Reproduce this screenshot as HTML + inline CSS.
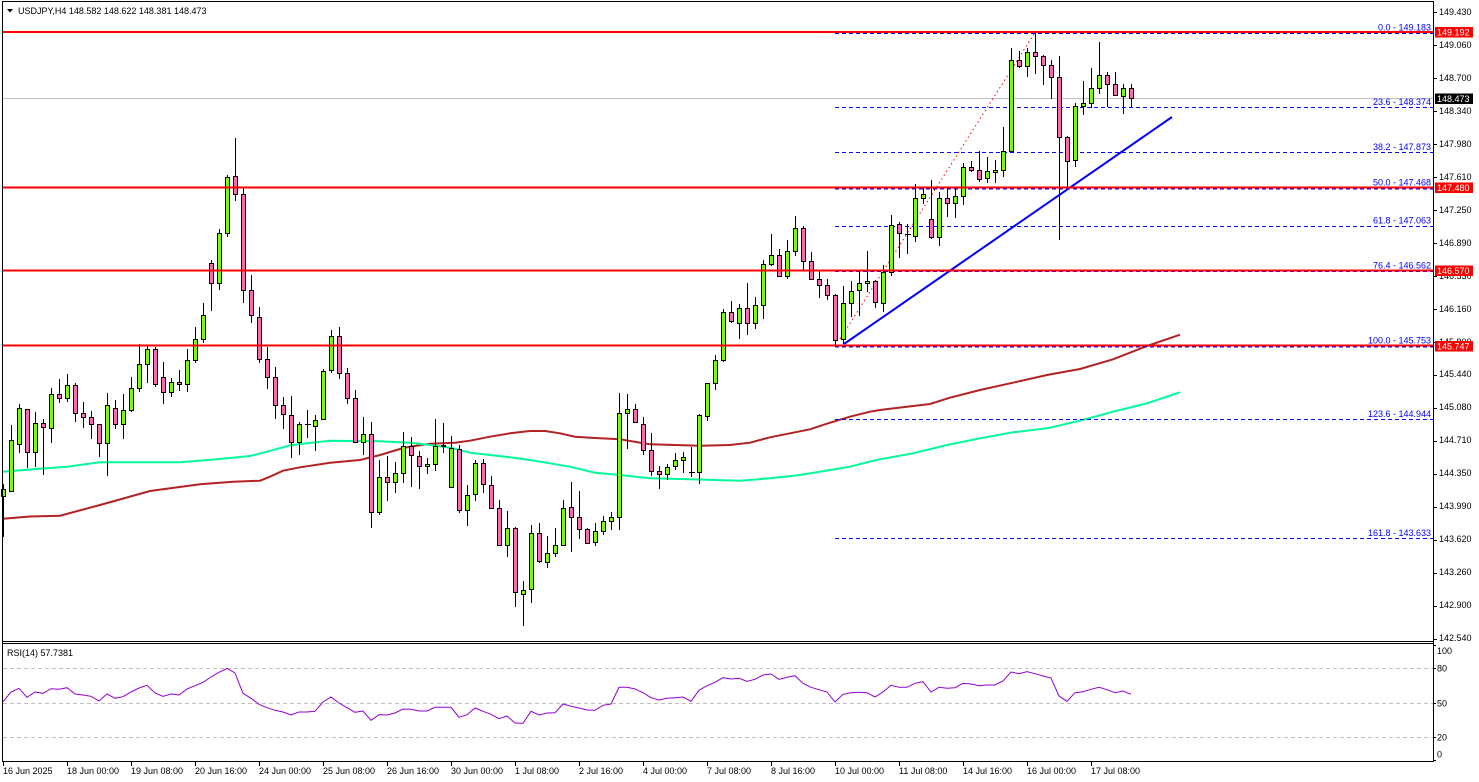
<!DOCTYPE html>
<html><head><meta charset="utf-8"><style>
html,body{margin:0;padding:0;background:#fff;}
svg{display:block;}
text{font-family:"Liberation Sans",sans-serif;font-size:9px;}
</style></head><body>
<svg width="1479" height="782" viewBox="0 0 1479 782" xmlns="http://www.w3.org/2000/svg">
<rect width="1479" height="782" fill="#fff"/>
<!-- MAs -->
<polyline fill="none" stroke="#B22222" stroke-width="2" points="3,518.7 30,516.5 60,515.7 100,505 150,491 200,484.3 233,481.7 260,480.7 270,476.7 283,470.7 300,467.3 330,462.7 360,460 380,455 400,449 410,446.7 430,443.7 455,442.7 470,440.7 490,436.7 510,433.3 530,431 545,431 560,433.3 575,436.7 595,438 620,439.3 650,444.3 700,445.7 730,445 750,442.7 770,437.3 790,433.3 810,429.3 830,422.7 850,416.7 870,411.7 880,410 930,404 950,397.7 980,390 1013,382.7 1047,375 1080,369 1113,359.3 1147,346 1180,334.7"/>
<polyline fill="none" stroke="#00FA9A" stroke-width="2" points="3,471.7 33,469.3 67,466.7 100,462.3 180,462.3 217,459.3 250,456 267,451.7 290,445.3 300,444 330,440.7 380,441.3 410,442.7 430,445 450,447.7 470,452.7 490,455 510,457.3 530,460 550,463.3 570,466.7 595,472.7 620,475 650,478.3 690,479.3 740,480.7 770,478.3 800,475 830,470 850,466.7 870,461.5 880,459.3 913,453.3 947,445 980,438.3 1013,432.3 1047,428.3 1080,420.7 1113,411.7 1147,403.3 1180,392.3"/>
<!-- current price line -->
<line x1="2" y1="98.5" x2="1433" y2="98.5" stroke="#C0C0C0" stroke-width="1"/>
<!-- fib dashed lines -->
<g stroke="#0000FF" stroke-width="1" stroke-dasharray="4,3">
<line x1="835" y1="33.5" x2="1433" y2="33.5"/>
<line x1="835" y1="107.5" x2="1433" y2="107.5"/>
<line x1="835" y1="152.5" x2="1433" y2="152.5"/>
<line x1="835" y1="189" x2="1433" y2="189"/>
<line x1="835" y1="226.5" x2="1433" y2="226.5"/>
<line x1="835" y1="271.5" x2="1433" y2="271.5"/>
<line x1="835" y1="347" x2="1433" y2="347"/>
<line x1="835" y1="419.5" x2="1433" y2="419.5"/>
<line x1="835" y1="538.5" x2="1433" y2="538.5"/>
</g>
<!-- red dotted fib diagonal -->
<line x1="840" y1="339" x2="1034" y2="34" stroke="#FF0000" stroke-width="1" stroke-dasharray="1.5,3"/>
<!-- wicks -->
<path fill="none" stroke="#000" stroke-width="1" d="M3.5 484V537M11.5 425V492M19.5 404V453M27.5 409V468M35.5 412V467M43.5 419V475M51.5 388V443M59.5 379V403M67.5 374V402M75.5 383V422M83.5 402V428M91.5 411V439M99.5 424V457M107.5 393V476M115.5 400V429M123.5 394V439M131.5 377V412M139.5 344V392M147.5 345V383M155.5 347V387M163.5 362V404M171.5 378V397M179.5 370V391M187.5 349V392M195.5 327V363M203.5 303V343M211.5 260V311M219.5 229V290M227.5 175V237M235.5 138V201M243.5 187V303M251.5 275V323M259.5 307V363M267.5 347V389M275.5 367V419M283.5 397V429M291.5 396V458M299.5 422V455M307.5 410V438M315.5 415V451M323.5 369V419M331.5 330V373M339.5 327V379M347.5 368V404M355.5 390V443M363.5 417V455M371.5 422V528M379.5 460V515M387.5 456V501M395.5 462V493M403.5 432V483M411.5 437V487M419.5 451V489M427.5 458V474M435.5 419V471M443.5 423V453M451.5 436V487M459.5 445V513M467.5 485V526M475.5 460V501M483.5 459V493M491.5 476V509M499.5 500V546M507.5 511V557M515.5 527V607M523.5 581V626M531.5 525V603M539.5 523V563M547.5 536V568M555.5 528V557M563.5 500V546M571.5 482V552M579.5 491V539M587.5 528V544M595.5 523V546M603.5 516V535M611.5 512V530M619.5 393V530M627.5 394V449M635.5 404V423M643.5 417V455M651.5 433V476M659.5 466V489M667.5 464V480M675.5 453V470M683.5 452V473M691.5 447V477M699.5 414V484M707.5 383V421M715.5 355V390M723.5 309V362M731.5 301V323M739.5 304V339M747.5 283V335M755.5 297V329M763.5 260V319M771.5 234V266M779.5 249V277M787.5 240V279M795.5 216V256M803.5 226V270M811.5 252V280M819.5 270V298M827.5 279V300M835.5 294V345M843.5 286V344M851.5 281V317M859.5 271V316M867.5 251V292M875.5 280V308M883.5 265V312M891.5 215V276M899.5 222V258M907.5 224V254M915.5 184V242M923.5 188V204M931.5 180V239M939.5 192V246M947.5 188V217M955.5 188V218M963.5 163V205M971.5 161V172M979.5 151V182M987.5 157V183M995.5 160V183M1003.5 127V177M1011.5 48V153M1019.5 51V68M1027.5 48V77M1035.5 32V74M1043.5 55V85M1051.5 60V99M1059.5 56V240M1067.5 136V188M1075.5 103V167M1083.5 81V115M1091.5 68V108M1099.5 42V94M1107.5 72V107M1115.5 72V96M1123.5 84V114M1131.5 84V107"/>
<!-- dojis -->
<path fill="none" stroke="#000" stroke-width="1" d="M305 424.5H311M689 472.5H695M905 234.5H911"/>
<!-- green bodies -->
<path fill="#7CFC00" stroke="#000" stroke-width="1" d="M1.5 489.5h4v7h-4zM9.5 440.5h4v51h-4zM17.5 408.5h4v36h-4zM33.5 423.5h4v29h-4zM49.5 394.5h4v34h-4zM65.5 385.5h4v13h-4zM105.5 405.5h4v38h-4zM121.5 410.5h4v14h-4zM129.5 388.5h4v22h-4zM137.5 364.5h4v24h-4zM145.5 349.5h4v15h-4zM169.5 382.5h4v10h-4zM185.5 360.5h4v24h-4zM193.5 339.5h4v21h-4zM201.5 315.5h4v24h-4zM217.5 233.5h4v50h-4zM225.5 177.5h4v56h-4zM297.5 424.5h4v18h-4zM313.5 420.5h4v6h-4zM321.5 371.5h4v48h-4zM329.5 336.5h4v34h-4zM361.5 434.5h4v8h-4zM377.5 477.5h4v35h-4zM393.5 473.5h4v9h-4zM401.5 446.5h4v27h-4zM425.5 464.5h4v2h-4zM433.5 446.5h4v18h-4zM449.5 448.5h4v39h-4zM465.5 495.5h4v15h-4zM473.5 463.5h4v31h-4zM505.5 528.5h4v17h-4zM521.5 590.5h4v4h-4zM529.5 533.5h4v56h-4zM545.5 553.5h4v9h-4zM553.5 545.5h4v8h-4zM561.5 508.5h4v37h-4zM593.5 531.5h4v11h-4zM601.5 521.5h4v10h-4zM609.5 517.5h4v4h-4zM617.5 413.5h4v104h-4zM625.5 409.5h4v4h-4zM665.5 467.5h4v7h-4zM673.5 460.5h4v6h-4zM681.5 457.5h4v3h-4zM697.5 415.5h4v57h-4zM705.5 383.5h4v33h-4zM713.5 360.5h4v23h-4zM721.5 312.5h4v48h-4zM737.5 308.5h4v15h-4zM753.5 305.5h4v18h-4zM761.5 264.5h4v41h-4zM769.5 255.5h4v9h-4zM785.5 251.5h4v25h-4zM793.5 228.5h4v23h-4zM841.5 303.5h4v36h-4zM849.5 291.5h4v12h-4zM857.5 283.5h4v7h-4zM865.5 281.5h4v2h-4zM881.5 272.5h4v31h-4zM889.5 225.5h4v47h-4zM913.5 198.5h4v38h-4zM921.5 194.5h4v4h-4zM937.5 198.5h4v39h-4zM953.5 196.5h4v7h-4zM961.5 167.5h4v29h-4zM985.5 171.5h4v7h-4zM993.5 170.5h4v2h-4zM1001.5 151.5h4v19h-4zM1009.5 60.5h4v91h-4zM1025.5 52.5h4v14h-4zM1073.5 106.5h4v54h-4zM1081.5 103.5h4v3h-4zM1089.5 88.5h4v15h-4zM1097.5 75.5h4v13h-4zM1121.5 88.5h4v8h-4z"/>
<!-- pink bodies -->
<path fill="#FF69B4" stroke="#000" stroke-width="1" d="M25.5 409.5h4v43h-4zM41.5 423.5h4v4h-4zM57.5 394.5h4v4h-4zM73.5 385.5h4v28h-4zM81.5 413.5h4v4h-4zM89.5 417.5h4v7h-4zM97.5 424.5h4v19h-4zM113.5 408.5h4v16h-4zM153.5 349.5h4v35h-4zM161.5 377.5h4v15h-4zM177.5 382.5h4v2h-4zM209.5 263.5h4v20h-4zM233.5 176.5h4v18h-4zM241.5 194.5h4v96h-4zM249.5 290.5h4v25h-4zM257.5 317.5h4v42h-4zM265.5 359.5h4v18h-4zM273.5 377.5h4v28h-4zM281.5 405.5h4v9h-4zM289.5 415.5h4v27h-4zM337.5 336.5h4v37h-4zM345.5 373.5h4v25h-4zM353.5 398.5h4v44h-4zM369.5 434.5h4v78h-4zM385.5 477.5h4v5h-4zM409.5 446.5h4v9h-4zM417.5 456.5h4v10h-4zM441.5 445.5h4v1h-4zM457.5 449.5h4v61h-4zM481.5 463.5h4v21h-4zM489.5 485.5h4v23h-4zM497.5 508.5h4v37h-4zM513.5 528.5h4v64h-4zM537.5 533.5h4v28h-4zM569.5 507.5h4v10h-4zM577.5 517.5h4v12h-4zM585.5 529.5h4v14h-4zM633.5 409.5h4v13h-4zM641.5 424.5h4v26h-4zM649.5 450.5h4v21h-4zM657.5 471.5h4v3h-4zM729.5 312.5h4v9h-4zM745.5 308.5h4v15h-4zM777.5 255.5h4v21h-4zM801.5 228.5h4v33h-4zM809.5 261.5h4v18h-4zM817.5 279.5h4v6h-4zM825.5 285.5h4v10h-4zM833.5 295.5h4v45h-4zM873.5 281.5h4v21h-4zM897.5 224.5h4v9h-4zM929.5 219.5h4v18h-4zM945.5 198.5h4v5h-4zM969.5 167.5h4v3h-4zM977.5 170.5h4v9h-4zM1017.5 60.5h4v6h-4zM1033.5 52.5h4v4h-4zM1041.5 56.5h4v9h-4zM1049.5 65.5h4v12h-4zM1057.5 77.5h4v60h-4zM1065.5 137.5h4v24h-4zM1105.5 75.5h4v9h-4zM1113.5 84.5h4v11h-4zM1129.5 88.5h4v10h-4z"/>
<!-- trend line -->
<line x1="844" y1="344" x2="1172" y2="117" stroke="#0000FF" stroke-width="2"/>
<!-- red horizontal lines -->
<g stroke="#FF0000" stroke-width="2">
<line x1="2" y1="32" x2="1433" y2="32"/>
<line x1="2" y1="187.5" x2="1433" y2="187.5"/>
<line x1="2" y1="270.5" x2="1433" y2="270.5"/>
<line x1="2" y1="345.5" x2="1433" y2="345.5"/>
</g>
<!-- fib labels -->
<g fill="#0000FF" text-anchor="end">
<text x="1431" y="30.5">0.0 - 149.183</text>
<text x="1431" y="105">23.6 - 148.374</text>
<text x="1431" y="150">38.2 - 147.873</text>
<text x="1431" y="185.5">50.0 - 147.468</text>
<text x="1431" y="223.5">61.8 - 147.063</text>
<text x="1431" y="268.5">76.4 - 146.562</text>
<text x="1431" y="343.5">100.0 - 145.753</text>
<text x="1431" y="417">123.6 - 144.944</text>
<text x="1431" y="536">161.8 - 143.633</text>
</g>
<!-- frame -->
<g stroke="#000" stroke-width="1" fill="none">
<line x1="2.5" y1="1" x2="2.5" y2="762"/>
<line x1="2" y1="1.5" x2="1434" y2="1.5"/>
<line x1="1433.5" y1="1" x2="1433.5" y2="762"/>
<line x1="2" y1="641.5" x2="1434" y2="641.5"/>
<line x1="2" y1="643.5" x2="1434" y2="643.5"/>
<line x1="2" y1="761.5" x2="1434" y2="761.5"/>
</g>
<!-- header -->
<polygon points="7,9 13,9 10,12.5" fill="#000"/>
<text x="18" y="14" fill="#000">USDJPY,H4  148.582 148.622 148.381 148.473</text>
<!-- price axis ticks -->
<path stroke="#000" stroke-width="1" d="M1433 12.5h4M1433 45.5h4M1433 78.5h4M1433 111.5h4M1433 144.5h4M1433 177.5h4M1433 210.5h4M1433 243.5h4M1433 276.5h4M1433 309.5h4M1433 342.5h4M1433 375.5h4M1433 408.5h4M1433 441.5h4M1433 474.5h4M1433 507.5h4M1433 540.5h4M1433 573.5h4M1433 606.5h4M1433 639.5h4"/>
<g fill="#000">
<text x="1439" y="15">149.430</text>
<text x="1439" y="48">149.060</text>
<text x="1439" y="81">148.700</text>
<text x="1439" y="114">148.340</text>
<text x="1439" y="147">147.980</text>
<text x="1439" y="180">147.610</text>
<text x="1439" y="213">147.250</text>
<text x="1439" y="246">146.890</text>
<text x="1439" y="279">146.530</text>
<text x="1439" y="312">146.160</text>
<text x="1439" y="345">145.800</text>
<text x="1439" y="377">145.440</text>
<text x="1439" y="410">145.080</text>
<text x="1439" y="443">144.710</text>
<text x="1439" y="476">144.350</text>
<text x="1439" y="509">143.990</text>
<text x="1439" y="542">143.620</text>
<text x="1439" y="575">143.260</text>
<text x="1439" y="608">142.900</text>
<text x="1439" y="641">142.540</text>
</g>
<!-- price boxes -->
<rect x="1435" y="27" width="38" height="10.5" fill="#FF0000"/>
<text x="1437" y="35.5" fill="#fff">149.192</text>
<rect x="1435" y="93.5" width="38" height="10.5" fill="#000"/>
<text x="1437" y="102" fill="#fff">148.473</text>
<rect x="1435" y="182.5" width="38" height="10.5" fill="#FF0000"/>
<text x="1437" y="191" fill="#fff">147.480</text>
<rect x="1435" y="265.5" width="38" height="10.5" fill="#FF0000"/>
<text x="1437" y="274" fill="#fff">146.570</text>
<rect x="1435" y="341" width="38" height="10.5" fill="#FF0000"/>
<text x="1437" y="349.5" fill="#fff">145.747</text>
<!-- RSI panel -->
<g stroke="#C0C0C0" stroke-width="1" stroke-dasharray="4,3">
<line x1="3" y1="668.5" x2="1433" y2="668.5"/>
<line x1="3" y1="703.5" x2="1433" y2="703.5"/>
<line x1="3" y1="737.5" x2="1433" y2="737.5"/>
</g>
<text x="7" y="656" fill="#000">RSI(14) 57.7381</text>
<polyline fill="none" stroke="#9400D3" stroke-width="1" points="3,701.7 11,692 19,688.3 27,697.3 35,692 43,693.3 51,688.7 59,689.3 67,687.7 75,694 83,695 91,696.3 99,701 107,694 115,698.3 123,696.7 131,692 139,688 147,685.3 155,693 163,696.3 171,694 179,695 187,689 195,685.7 203,682.3 211,677 219,672.3 227,668.5 235,673 243,693.3 251,698.3 259,704.3 267,707.7 275,710.3 283,712 291,715 299,712 307,712 315,711.3 323,702 331,697 339,703 347,707.7 355,712.3 363,711 371,720.3 379,714.7 387,715 395,713 403,709 411,709.3 419,711 427,711 435,707.3 443,707.3 451,707.3 459,717.3 467,714.7 475,708 483,711.3 491,714.3 499,718.7 507,716 515,723 523,723.3 531,711.3 539,715 547,713 555,712.7 563,704 571,706.3 579,708 587,710 595,710.3 603,705.3 611,704 619,687.3 627,687.3 635,689 643,692.7 651,697.7 659,700 667,698.3 675,697.7 683,697 691,701.3 699,690.3 707,685.7 715,682.3 723,677.7 731,679 739,678.3 747,681.3 755,679.3 763,675 771,674 779,679.3 787,677.3 795,675.7 803,683.3 811,687.3 819,689.7 827,692 835,702 843,694.3 851,692.7 859,692.3 867,692.7 875,697 883,692 891,685.3 899,687.3 907,687.3 915,683.3 923,681.7 931,692 939,687.3 947,688.3 955,687.7 963,683.3 971,684 979,685.7 987,685 995,685 1003,681 1011,672 1019,673.7 1027,671.7 1035,673.7 1043,676 1051,678 1059,696 1067,701.3 1075,692.7 1083,691.7 1091,689.3 1099,687.3 1107,689.7 1115,692.7 1123,691 1131,694.3"/>
<path stroke="#000" stroke-width="1" d="M1433 645.5h3M1433 668.5h3M1433 703.5h3M1433 737.5h3M1433 760.5h3"/>
<g fill="#000">
<text x="1437" y="654">100</text>
<text x="1437" y="671.5">80</text>
<text x="1437" y="706.5">50</text>
<text x="1437" y="740.5">20</text>
<text x="1437" y="757.5">0</text>
</g>
<!-- time axis -->
<path stroke="#000" stroke-width="1" d="M3.5 762v4M67.5 762v4M131.5 762v4M195.5 762v4M259.5 762v4M323.5 762v4M387.5 762v4M451.5 762v4M515.5 762v4M579.5 762v4M643.5 762v4M707.5 762v4M771.5 762v4M835.5 762v4M899.5 762v4M963.5 762v4M1027.5 762v4M1091.5 762v4"/>
<g fill="#000">
<text x="3" y="774">16 Jun 2025</text>
<text x="67" y="774">18 Jun 00:00</text>
<text x="131" y="774">19 Jun 08:00</text>
<text x="195" y="774">20 Jun 16:00</text>
<text x="259" y="774">24 Jun 00:00</text>
<text x="323" y="774">25 Jun 08:00</text>
<text x="387" y="774">26 Jun 16:00</text>
<text x="451" y="774">30 Jun 00:00</text>
<text x="515" y="774">1 Jul 08:00</text>
<text x="579" y="774">2 Jul 16:00</text>
<text x="643" y="774">4 Jul 00:00</text>
<text x="707" y="774">7 Jul 08:00</text>
<text x="771" y="774">8 Jul 16:00</text>
<text x="835" y="774">10 Jul 00:00</text>
<text x="899" y="774">11 Jul 08:00</text>
<text x="963" y="774">14 Jul 16:00</text>
<text x="1027" y="774">16 Jul 00:00</text>
<text x="1091" y="774">17 Jul 08:00</text>
</g>
</svg>
</body></html>
